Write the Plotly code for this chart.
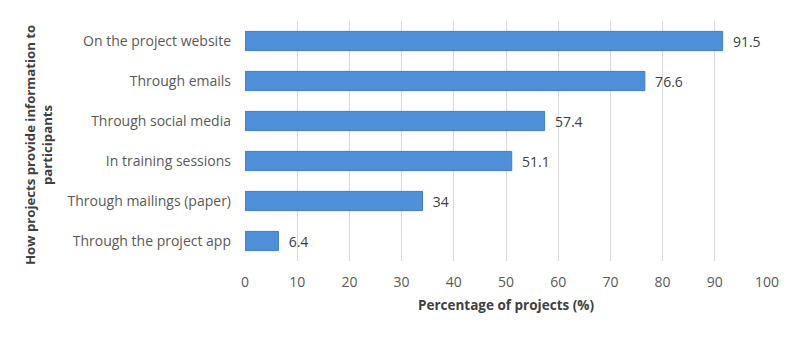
import plotly.graph_objects as go

categories = ["On the project website", "Through emails", "Through social media",
              "In training sessions", "Through mailings (paper)", "Through the project app"]
values = [91.5, 76.6, 57.4, 51.1, 34, 6.4]
tick_vals = [0, 10, 20, 30, 40, 50, 60, 70, 80, 90, 100]

font_family = "Open Sans, Liberation Sans, sans-serif"

# page body has an 8px margin; figure coordinates are offset accordingly
L, R, T, B = 237, 41, 13, 86
PW = 800 - L - R
PH = 339 - T - B

fig = go.Figure(go.Bar(
    y=categories, x=values, orientation="h",
    marker=dict(color="#4f8fd8", line=dict(color="#3f7cc4", width=1)),
    text=["\u00a0\u00a0" + str(v) for v in values], textposition="outside",
    textfont=dict(family=font_family, size=14, color="#404040"),
    cliponaxis=False,
))

fig.update_layout(
    width=800, height=339,
    margin=dict(l=L, r=R, t=T, b=B, autoexpand=False),
    paper_bgcolor="white", plot_bgcolor="white",
    bargap=0.52,
    showlegend=False,
    font=dict(family=font_family, size=14, color="#595959"),
    xaxis=dict(range=[0, 100], tickvals=tick_vals, showgrid=True, gridcolor="#d9d9d9",
               gridwidth=1, zeroline=False, showline=False, ticks="", automargin=False,
               ticklabelstandoff=11,
               tickfont=dict(size=14, color="#595959"),
               title=dict(text="<b>Percentage of projects (%)</b>",
                          font=dict(size=13.5, color="#404040"), standoff=10)),
    yaxis=dict(autorange="reversed", showgrid=False, zeroline=False, showline=False,
               ticks="", automargin=False, ticklabelstandoff=13,
               tickfont=dict(size=14, color="#595959")),
    annotations=[dict(text="<b>How projects provide information to<br>participants</b>",
                      xref="paper", yref="paper", x=(30 - L) / PW, y=1 - (137 - T) / PH,
                      xanchor="center", yanchor="middle",
                      textangle=-90, showarrow=False,
                      font=dict(size=13.2, color="#404040"))],
)

fig.write_html("out.html")
